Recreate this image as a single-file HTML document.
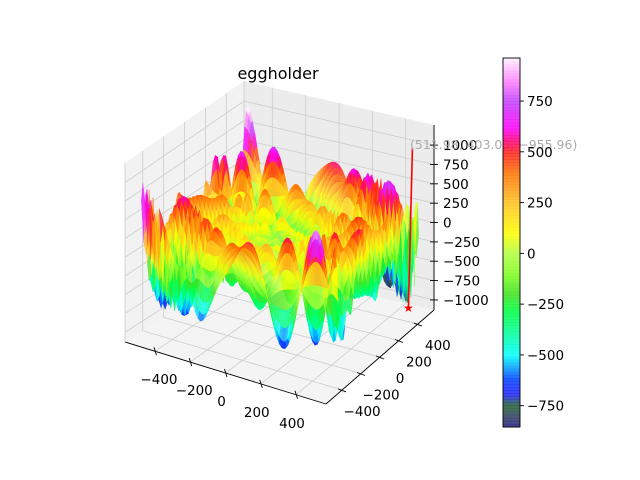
<!DOCTYPE html>
<html><head><meta charset="utf-8"><style>
body{margin:0;background:#fff}
svg{display:block}
text{font-family:"DejaVu Sans","Liberation Sans",sans-serif}
</style></head><body>
<svg id="chart" width="640" height="480" viewBox="0 0 640 480">
<rect width="640" height="480" fill="#fff"/>
<text x="278" y="79" font-size="16" text-anchor="middle">eggholder</text>
<g id="panes"></g>
<g id="surf"></g>
<g id="axes"></g>
<g id="cbar"></g>
</svg>
<script>
// ---- data ----
const xTicks = [-400,-200,0,200,400];
const yTicks = [-400,-200,0,200,400];
const zTicks = [-1000,-750,-500,-250,0,250,500,750,1000];
const cbarTicks = [-750,-500,-250,0,250,500,750];
const gridX = []; const gridY = [];
for (let i=0;i<=70;i++){ gridX.push(-512+1024*i/70); gridY.push(-512+1024*i/70); }
const minPoint = [511.98, 403.03, -955.96];
const markerTopZ = 1100;
const colorMin = -855, colorMax = 962;

function eggholder(x,y){
  return -(y+47)*Math.sin(Math.sqrt(Math.abs(x/2+y+47))) - x*Math.sin(Math.sqrt(Math.abs(x-(y+47))));
}
// ---- projection ----
const xlo=-570,xhi=570,ylo=-570,yhi=570,zlo=-1130,zhi=1260;
const L=[125,342],F=[326,404],R=[434,310],B=[244,266];
const hL=179,hF=192,hR=185,hB=185;
function P(x,y,z){
  const u=(x-xlo)/(xhi-xlo), v=(y-ylo)/(yhi-ylo), w=(z-zlo)/(zhi-zlo);
  const bl=(a,b,c,d)=>a*(1-u)*(1-v)+b*u*(1-v)+c*u*v+d*(1-u)*v;
  const fx=bl(L[0],F[0],R[0],B[0]), fy=bl(L[1],F[1],R[1],B[1]), h=bl(hL,hF,hR,hB);
  return [fx, fy-w*h];
}
function depth(x,y,z){
  const u=(x-xlo)/(xhi-xlo)-0.5, v=(y-ylo)/(yhi-ylo)-0.5, w=(z-zlo)/(zhi-zlo)-0.5;
  return 0.433*u-0.75*v+0.5*w;
}
const stops=[[-855,[32,32,128]],[-800,[48,64,96]],[-750,[32,96,48]],[-690,[32,32,255]],[-620,[0,64,255]],[-560,[0,160,255]],[-500,[0,255,255]],[-400,[0,255,160]],[-280,[0,255,64]],[-200,[64,224,32]],[-100,[128,255,32]],[0,[176,255,64]],[100,[255,255,0]],[250,[255,192,32]],[400,[255,112,0]],[500,[255,32,32]],[560,[255,0,128]],[620,[255,0,255]],[750,[192,64,255]],[850,[255,128,255]],[962,[255,240,255]]];
function cmap(z){
  if(z<=stops[0][0]) return 'rgb('+stops[0][1]+')';
  for(let i=1;i<stops.length;i++){ if(z<=stops[i][0]){
    const t=(z-stops[i-1][0])/(stops[i][0]-stops[i-1][0]);
    const c=stops[i-1][1].map((a,k)=>Math.round(a+(stops[i][1][k]-a)*t));
    return 'rgb('+c+')'; } }
  return 'rgb('+stops[stops.length-1][1]+')';
}
const NS='http://www.w3.org/2000/svg';
function mk(tag,attrs,parent){const e=document.createElementNS(NS,tag);for(const k in attrs)e.setAttribute(k,attrs[k]);parent.appendChild(e);return e;}
const pts=a=>a.map(p=>p[0].toFixed(1)+','+p[1].toFixed(1)).join(' ');

// ---- panes ----
const panes=document.getElementById('panes');
let e;
e=mk('polygon',{points:pts([P(xlo,ylo,zlo),P(xlo,yhi,zlo),P(xlo,yhi,zhi),P(xlo,ylo,zhi)]),fill:'#f2f2f2'},panes);


e=mk('polygon',{points:pts([P(xlo,yhi,zlo),P(xhi,yhi,zlo),P(xhi,yhi,zhi),P(xlo,yhi,zhi)]),fill:'#ececec'},panes);


e=mk('polygon',{points:pts([P(xlo,ylo,zlo),P(xhi,ylo,zlo),P(xhi,yhi,zlo),P(xlo,yhi,zlo)]),fill:'#f4f4f4'},panes);


const gl={stroke:'#cccccc','stroke-width':0.8};
xTicks.forEach(t=>{
  e=mk('polyline',Object.assign({points:pts([P(t,ylo,zlo),P(t,yhi,zlo),P(t,yhi,zhi)]),fill:'none'},gl),panes);
  
  
});
yTicks.forEach(t=>{
  e=mk('polyline',Object.assign({points:pts([P(xhi,t,zlo),P(xlo,t,zlo),P(xlo,t,zhi)]),fill:'none'},gl),panes);
  
  
});
zTicks.forEach(t=>{
  e=mk('polyline',Object.assign({points:pts([P(xlo,ylo,t),P(xlo,yhi,t),P(xhi,yhi,t)]),fill:'none'},gl),panes);
  
  
});
[[P(xlo,ylo,zlo),P(xlo,ylo,zhi)],[P(xlo,yhi,zlo),P(xlo,yhi,zhi)],[P(xhi,yhi,zlo),P(xhi,yhi,zhi)]].forEach(s=>{
  e=mk('line',{x1:s[0][0],y1:s[0][1],x2:s[1][0],y2:s[1][1],stroke:'#cccccc','stroke-width':0.8},panes);
  
  
});

// ---- surface ----
const surf=document.getElementById('surf');
const Z=gridY.map(y=>gridX.map(x=>eggholder(x,y)));
const faces=[];
for(let j=0;j<gridY.length-1;j++)for(let i=0;i<gridX.length-1;i++){
  const zs=[Z[j][i],Z[j][i+1],Z[j+1][i+1],Z[j+1][i]];
  const za=(zs[0]+zs[1]+zs[2]+zs[3])/4;
  const xc=(gridX[i]+gridX[i+1])/2, yc=(gridY[j]+gridY[j+1])/2;
  faces.push({d:depth(xc,yc,za),za,p:[P(gridX[i],gridY[j],zs[0]),P(gridX[i+1],gridY[j],zs[1]),P(gridX[i+1],gridY[j+1],zs[2]),P(gridX[i],gridY[j+1],zs[3])]});
}
faces.sort((a,b)=>a.d-b.d);
faces.forEach(f=>{
  const c=cmap(f.za);
  e=mk('polygon',{points:pts(f.p),fill:c,stroke:c,'stroke-width':0.4,'fill-opacity':0.8,'stroke-opacity':0.5},surf);
  
  
});

// ---- axes ----
const ax=document.getElementById('axes');
function line(a,b,name){e=mk('line',{x1:a[0],y1:a[1],x2:b[0],y2:b[1],stroke:'#000','stroke-width':0.9},ax);
  
  }
function label(x,y,t,anchor,name){e=mk('text',{x:x,y:y,'font-size':13.5,'text-anchor':anchor},ax);e.textContent=t;
  
  }
const fmt=v=>v<0?'\u2212'+(-v):''+v;
line(P(xlo,ylo,zlo),P(xhi,ylo,zlo),'x-axis-line');
line(P(xhi,ylo,zlo),P(xhi,yhi,zlo),'y-axis-line');
line(P(xhi,yhi,zlo),P(xhi,yhi,zhi),'z-axis-line');
xTicks.forEach(t=>{const p=P(t,ylo,zlo);line([p[0]-1,p[1]-4],[p[0]+1.5,p[1]+4],'x-tick');label(p[0]+(t<0?4:-4),p[1]+33,fmt(t),'middle','x-tick-label');});
yTicks.forEach(t=>{const p=P(xhi,t,zlo);line([p[0]-4,p[1]-1],[p[0]+4,p[1]+2],'y-tick');label(p[0]+20,p[1]+26,fmt(t),'middle','y-tick-label');});
zTicks.forEach(t=>{const p=P(xhi,yhi,t);line([p[0]-4,p[1]],[p[0]+4,p[1]],'z-tick');label(p[0]+9,p[1]+5,fmt(t),'start','z-tick-label');});

// marker
const a=P(minPoint[0],minPoint[1],minPoint[2]), b=P(minPoint[0],minPoint[1],markerTopZ);
e=mk('line',{x1:a[0],y1:a[1],x2:b[0]+4,y2:b[1],stroke:'#ff0000','stroke-width':1.6},ax);


e=mk('text',{x:a[0],y:a[1]+4,'font-size':12,fill:'#ff0000','text-anchor':'middle'},ax);e.textContent='\u2605';


e=mk('text',{x:410,y:149,'font-size':12.5,fill:'#aaaaaa'},ax);
e.textContent='('+minPoint[0]+', '+minPoint[1]+', \u2212'+(-minPoint[2])+')';



// ---- colorbar ----
const cb=document.getElementById('cbar');
const cbTop=58,cbBot=427,cbX=503,cbW=17;
const cy=v=>cbBot-(v-colorMin)/(colorMax-colorMin)*(cbBot-cbTop);
const nb=120;
for(let k=0;k<nb;k++){
  const v0=colorMin+(colorMax-colorMin)*k/nb, v1=colorMin+(colorMax-colorMin)*(k+1)/nb;
  e=mk('rect',{x:cbX,y:cy(v1),width:cbW,height:cy(v0)-cy(v1)+0.5,fill:cmap((v0+v1)/2),'fill-opacity':0.85},cb);
  
  
}
e=mk('rect',{x:cbX,y:cbTop,width:cbW,height:cbBot-cbTop,fill:'none',stroke:'#000','stroke-width':0.9},cb);


cbarTicks.forEach(t=>{
  const y=cy(t);
  e=mk('line',{x1:cbX+cbW,y1:y,x2:cbX+cbW+4,y2:y,stroke:'#000','stroke-width':0.9},cb);
  
  
  e=mk('text',{x:cbX+cbW+7,y:y+5,'font-size':13.5},cb);e.textContent=fmt(t);
  
  
});
</script>
</body></html>
